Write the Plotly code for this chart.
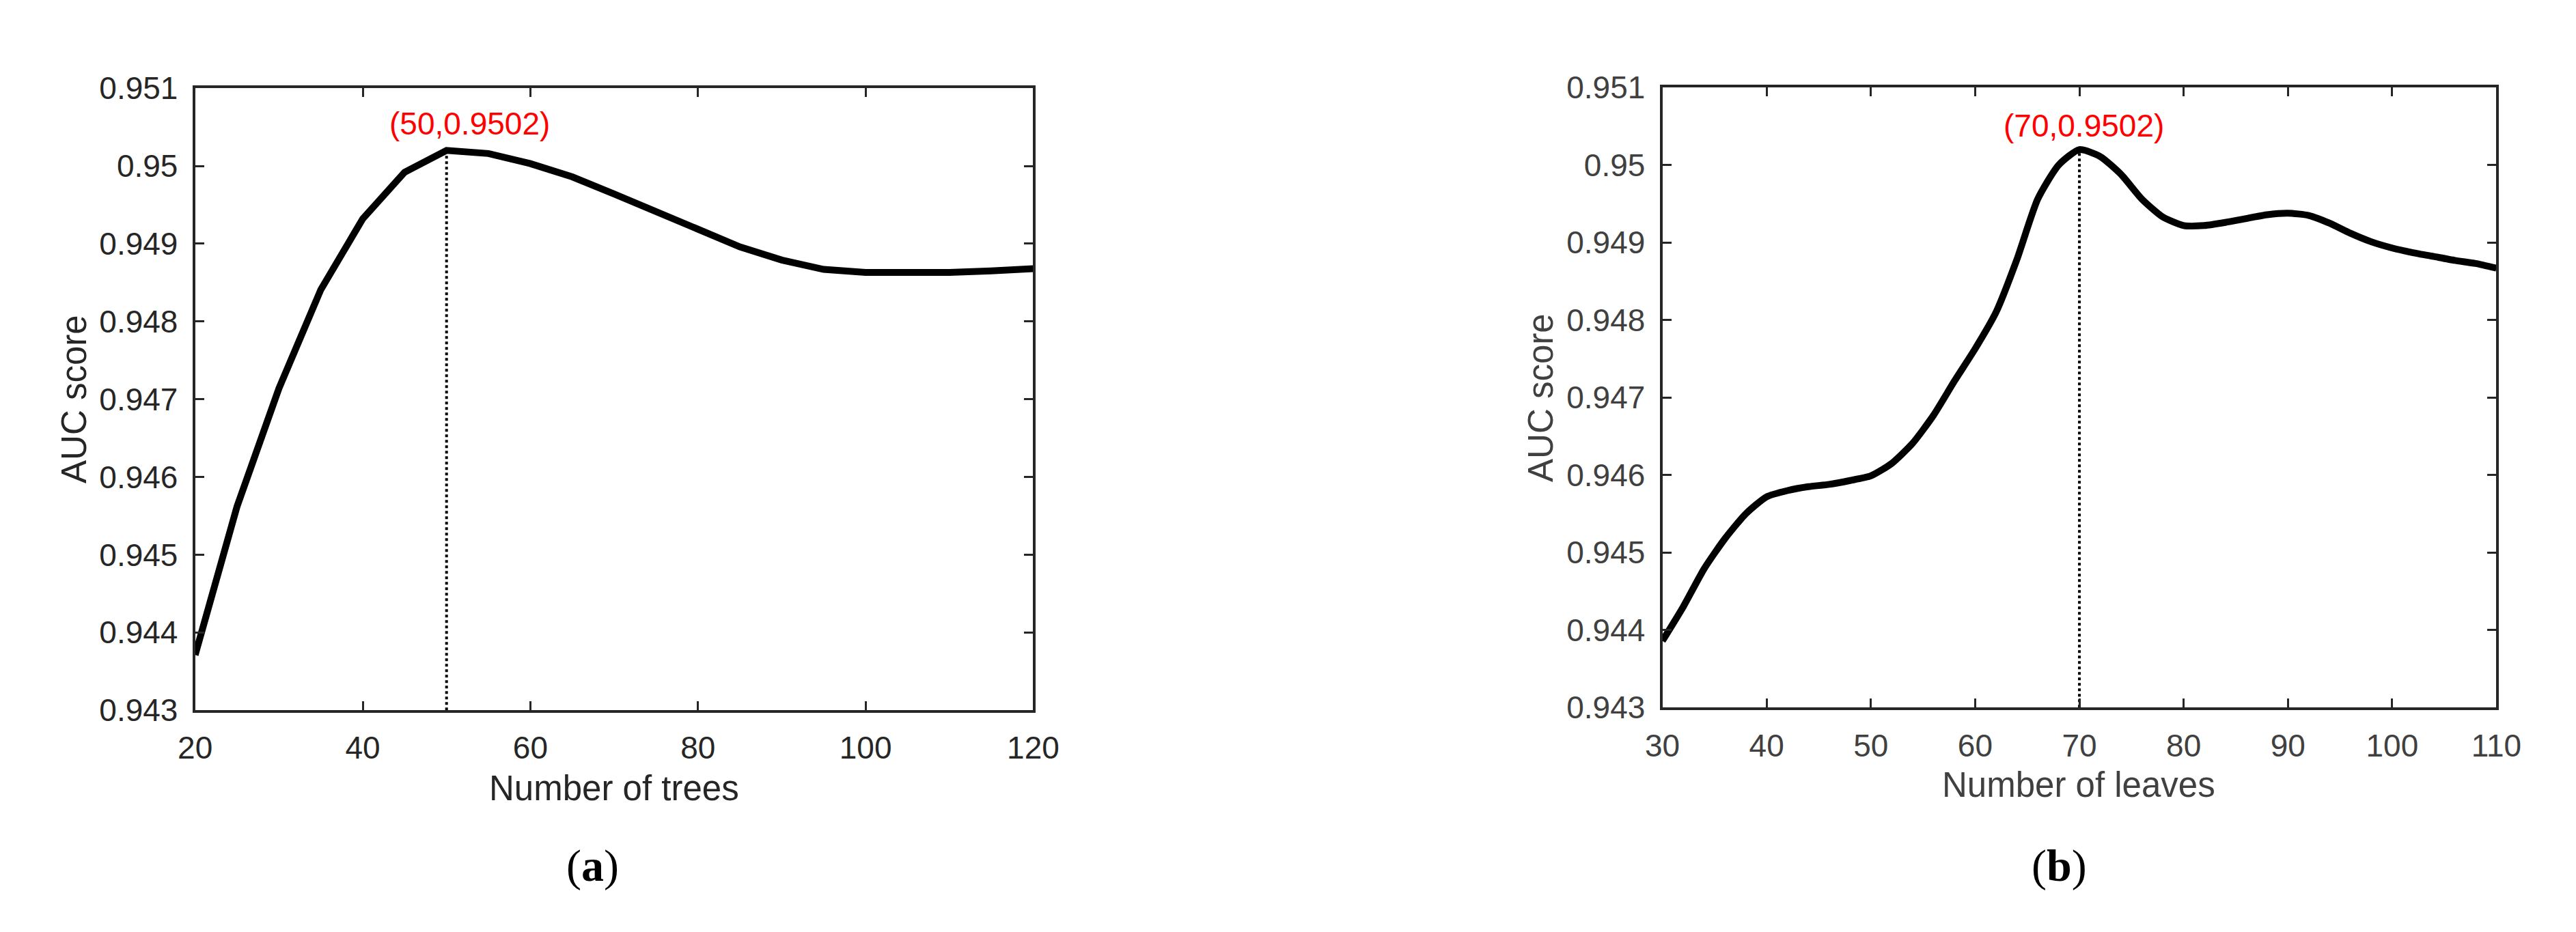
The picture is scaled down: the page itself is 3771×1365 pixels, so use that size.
import plotly.graph_objects as go

# ---- data ----
trees_x = [20, 25, 30, 35, 40, 45, 50, 55, 60, 65, 70, 75, 80, 85, 90, 95, 100, 105, 110, 115, 120]
trees_auc = [0.94371, 0.94562, 0.94714, 0.94841, 0.94932, 0.94992, 0.95020, 0.95016, 0.95003,
             0.94986, 0.94964, 0.94942, 0.94918, 0.94896, 0.94879, 0.94867, 0.94863, 0.94862,
             0.94863, 0.94865, 0.94868]

leaves_x = [30, 32, 34, 36, 38, 40, 42, 44, 46, 48, 50, 52, 54, 56, 58, 60, 62, 64, 66, 68, 70,
            72, 74, 76, 78, 80, 82, 84, 86, 88, 90, 92, 94, 96, 98, 100, 102, 104, 106, 108, 110]
leaves_auc = [0.94386, 0.94430, 0.94479, 0.94518, 0.94550, 0.94572, 0.94580, 0.94585, 0.94588,
              0.94593, 0.94599, 0.94615, 0.94641, 0.94677, 0.94721, 0.94763, 0.94810, 0.94878,
              0.94956, 0.95000, 0.95020, 0.95011, 0.94988, 0.94956, 0.94933, 0.94922, 0.94922,
              0.94926, 0.94931, 0.94936, 0.94938, 0.94935, 0.94925, 0.94912, 0.94901, 0.94893,
              0.94887, 0.94882, 0.94877, 0.94873, 0.94867]

y_tickvals = [0.943, 0.944, 0.945, 0.946, 0.947, 0.948, 0.949, 0.950, 0.951]
y_ticktext = ["0.943", "0.944", "0.945", "0.946", "0.947", "0.948", "0.949", "0.95", "0.951"]
trees_tickvals = [20, 40, 60, 80, 100, 120]
leaves_tickvals = [30, 40, 50, 60, 70, 80, 90, 100, 110]

peak_trees = (50, 0.9502)
peak_leaves = (70, 0.9502)

# ---- figure ----
W, H = 3771, 1365
FONT = "Liberation Sans, Arial, sans-serif"
SERIF = "Liberation Serif, Times New Roman, serif"
DARK = "#262626"
GRAY = "#404040"

fig = go.Figure()

fig.add_trace(go.Scatter(x=trees_x, y=trees_auc, mode="lines",
                         line=dict(color="black", width=10), xaxis="x", yaxis="y",
                         showlegend=False, hoverinfo="skip"))
fig.add_trace(go.Scatter(x=[peak_trees[0], peak_trees[0]], y=[y_tickvals[0], peak_trees[1]],
                         mode="lines", line=dict(color="black", width=4, dash="dot"),
                         xaxis="x", yaxis="y", showlegend=False, hoverinfo="skip"))

fig.add_trace(go.Scatter(x=leaves_x, y=leaves_auc, mode="lines",
                         line=dict(color="black", width=10, shape="spline", smoothing=0.6),
                         xaxis="x2", yaxis="y2", showlegend=False, hoverinfo="skip"))
fig.add_trace(go.Scatter(x=[peak_leaves[0], peak_leaves[0]], y=[y_tickvals[0], peak_leaves[1]],
                         mode="lines", line=dict(color="black", width=4, dash="dot"),
                         xaxis="x2", yaxis="y2", showlegend=False, hoverinfo="skip"))


def xax(domain, rng, tickvals, anchor, color):
    return dict(domain=domain, range=rng, tickvals=tickvals, anchor=anchor,
                showline=True, mirror="ticks", linewidth=4, linecolor=DARK,
                ticks="inside", ticklen=13, tickwidth=3, tickcolor=DARK,
                showgrid=False, zeroline=False,
                tickfont=dict(family=FONT, size=46, color=color),
                ticklabelstandoff=12)


def yax(domain, anchor, color):
    return dict(domain=domain, range=[0.943, 0.951], tickvals=y_tickvals, ticktext=y_ticktext,
                anchor=anchor, showline=True, mirror="ticks", linewidth=4, linecolor=DARK,
                ticks="inside", ticklen=13, tickwidth=3, tickcolor=DARK,
                showgrid=False, zeroline=False,
                tickfont=dict(family=FONT, size=46, color=color),
                ticklabelstandoff=12)


fig.update_layout(
    width=W, height=H,
    margin=dict(l=0, r=0, t=0, b=0),
    paper_bgcolor="white", plot_bgcolor="white",
    xaxis=xax([256 / W, 1504 / W], [20, 120], trees_tickvals, "y", DARK),
    yaxis=yax([1 - 1046 / H, 1 - 99 / H], "x", DARK),
    xaxis2=xax([2441 / W, 3683 / W], [30, 110], leaves_tickvals, "y2", GRAY),
    yaxis2=yax([1 - 1042 / H, 1 - 98 / H], "x2", GRAY),
)


def pann(x, y, text, size, color, family=FONT, angle=0):
    return dict(x=x / W, y=1 - y / H, xref="paper", yref="paper", text=text,
                xanchor="center", yanchor="middle", textangle=angle, showarrow=False,
                font=dict(family=family, size=size, color=color))


ann = [
    dict(x=peak_trees[0], y=peak_trees[1], xref="x", yref="y",
         text=f"({peak_trees[0]},{peak_trees[1]})", showarrow=False,
         xanchor="center", yanchor="middle",
         xshift=34, yshift=39, font=dict(family=FONT, size=46, color="red")),
    dict(x=peak_leaves[0], y=peak_leaves[1], xref="x2", yref="y2",
         text=f"({peak_leaves[0]},{peak_leaves[1]})", showarrow=False,
         xanchor="center", yanchor="middle",
         xshift=6, yshift=35, font=dict(family=FONT, size=46, color="red")),
    pann(880, 1165, "Number of trees", 51, DARK),
    pann(3061, 1160, "Number of leaves", 51, GRAY),
    pann(75, 572, "AUC score", 51, DARK, angle=-90),
    pann(2260, 570, "AUC score", 51, GRAY, angle=-90),
    pann(848, 1283, "(<b>a</b>)", 66, "black", family=SERIF),
    pann(3032, 1283, "(<b>b</b>)", 66, "black", family=SERIF),
]
fig.update_layout(annotations=ann)

fig.write_html("out.html")
